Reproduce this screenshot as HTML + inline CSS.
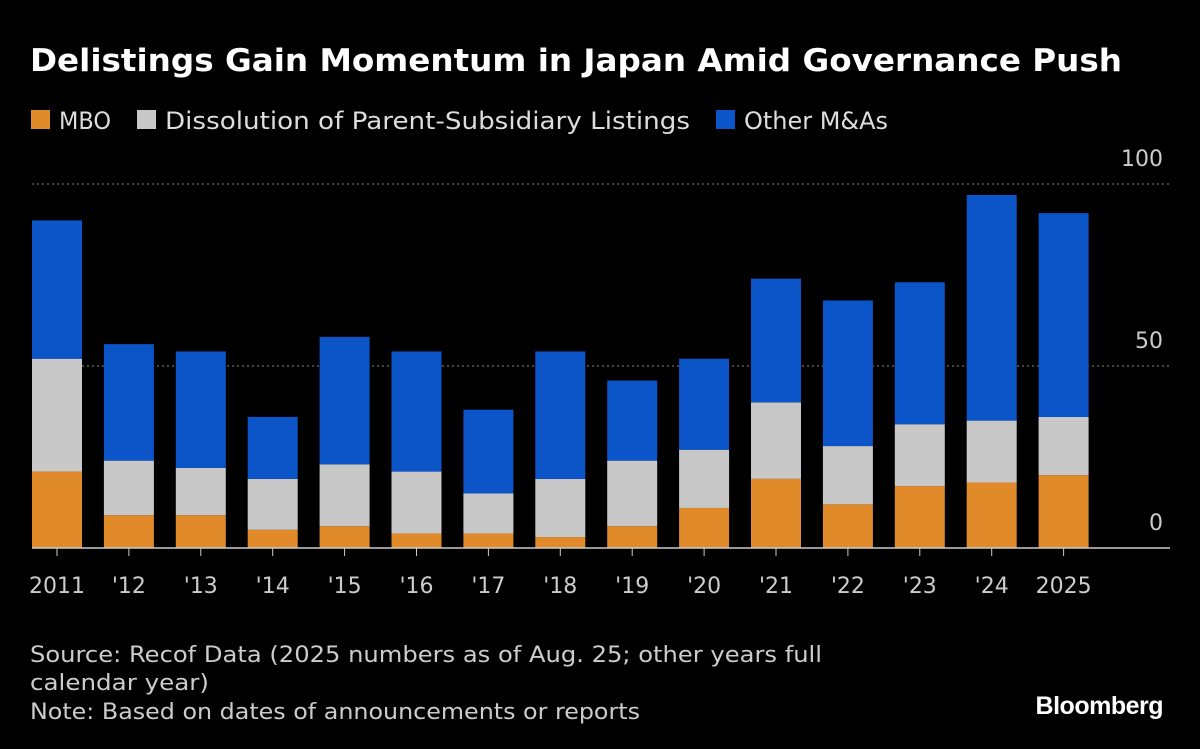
<!DOCTYPE html>
<html><head><meta charset="utf-8"><style>
html,body{margin:0;padding:0;background:#000;width:1200px;height:749px;overflow:hidden;font-family:"Liberation Sans","DejaVu Sans",sans-serif;color:#fff}
</style></head><body>
<svg id="chart" width="1200" height="749" xmlns="http://www.w3.org/2000/svg">
<text x="30" y="71" fill="#fff" font-size="31" font-weight="bold" font-family="DejaVu Sans, Liberation Sans, sans-serif" textLength="1092" lengthAdjust="spacingAndGlyphs">Delistings Gain Momentum in Japan Amid Governance Push</text>
<g font-size="24" fill="#ddd" font-family="DejaVu Sans, Liberation Sans, sans-serif">
<rect x="31" y="110" width="19" height="19" fill="#e08a2a"/>
<text x="59" y="129" textLength="52" lengthAdjust="spacingAndGlyphs">MBO</text>
<rect x="137" y="110" width="19" height="19" fill="#c8c8c8"/>
<text x="165" y="129" textLength="525" lengthAdjust="spacingAndGlyphs">Dissolution of Parent-Subsidiary Listings</text>
<rect x="716" y="110" width="19" height="19" fill="#0b55c9"/>
<text x="744" y="129" textLength="144" lengthAdjust="spacingAndGlyphs">Other M&amp;As</text>
</g>
<g id="grid"></g><g id="bars"></g><g id="xlabels"></g>
<line x1="32" y1="548" x2="1170" y2="548" stroke="#ccc" stroke-width="1.5"/>
<g font-size="22" fill="#ccc" font-family="DejaVu Sans, Liberation Sans, sans-serif">
<text x="30" y="662" textLength="792" lengthAdjust="spacingAndGlyphs">Source: Recof Data (2025 numbers as of Aug. 25; other years full</text>
<text x="30" y="690" textLength="179" lengthAdjust="spacingAndGlyphs">calendar year)</text>
<text x="30" y="719" textLength="610" lengthAdjust="spacingAndGlyphs">Note: Based on dates of announcements or reports</text>
</g>
<text x="1163" y="714" text-anchor="end" fill="#fff" font-size="25" font-weight="bold" letter-spacing="-0.5">Bloomberg</text>
</svg>
<script>
const categories=["2011","'12","'13","'14","'15","'16","'17","'18","'19","'20","'21","'22","'23","'24","2025"];
const mbo=[21,9,9,5,6,4,4,3,6,11,19,12,17,18,20];
const dissolution=[31,15,13,14,17,17,11,16,18,16,21,16,17,17,16];
const other=[38,32,32,17,35,33,23,35,22,25,34,40,39,62,56];
const yTicks=[0,50,100];
const NS="http://www.w3.org/2000/svg";
const y0=548,y100=184;
function y(v){return y0-(y0-y100)*v/100;}
function x(i){return 57+i*71.9;}
const bw=50;
const grid=document.getElementById('grid');
yTicks.forEach(t=>{
 if(t>0){const l=document.createElementNS(NS,'line');
 
 
 l.setAttribute('x1',32);l.setAttribute('x2',1170);l.setAttribute('y1',y(t));l.setAttribute('y2',y(t));
 l.setAttribute('stroke','#888');l.setAttribute('stroke-dasharray','2,3');grid.appendChild(l);}
 const tx=document.createElementNS(NS,'text');
 
 
 tx.setAttribute('x',1163);tx.setAttribute('y',y(t)-18);tx.setAttribute('text-anchor','end');
 tx.setAttribute('fill','#ccc');tx.setAttribute('font-size','22');tx.setAttribute('font-family','DejaVu Sans, Liberation Sans, sans-serif');
 tx.textContent=t;grid.appendChild(tx);
});
const bars=document.getElementById('bars'),xl=document.getElementById('xlabels');
categories.forEach((c,i)=>{
 let base=0;
 [[mbo,'#e08a2a','mbo'],[dissolution,'#c8c8c8','dissolution'],[other,'#0b55c9','other']].forEach(([arr,col,nm])=>{
  const v=arr[i];const r=document.createElementNS(NS,'rect');
  
  
  r.setAttribute('x',x(i)-bw/2);r.setAttribute('width',bw);
  r.setAttribute('y',y(base+v));r.setAttribute('height',y(base)-y(base+v));
  r.setAttribute('fill',col);bars.appendChild(r);base+=v;
 });
 const tk=document.createElementNS(NS,'line');
 
 
 tk.setAttribute('x1',x(i));tk.setAttribute('x2',x(i));tk.setAttribute('y1',548);tk.setAttribute('y2',556);
 tk.setAttribute('stroke','#ccc');xl.appendChild(tk);
 const t=document.createElementNS(NS,'text');
 
 
 t.setAttribute('x',x(i));t.setAttribute('y',593);t.setAttribute('text-anchor','middle');
 t.setAttribute('fill','#ccc');t.setAttribute('font-size','22');t.setAttribute('font-family','DejaVu Sans, Liberation Sans, sans-serif');
 t.textContent=c;xl.appendChild(t);
});
</script>
</body></html>
